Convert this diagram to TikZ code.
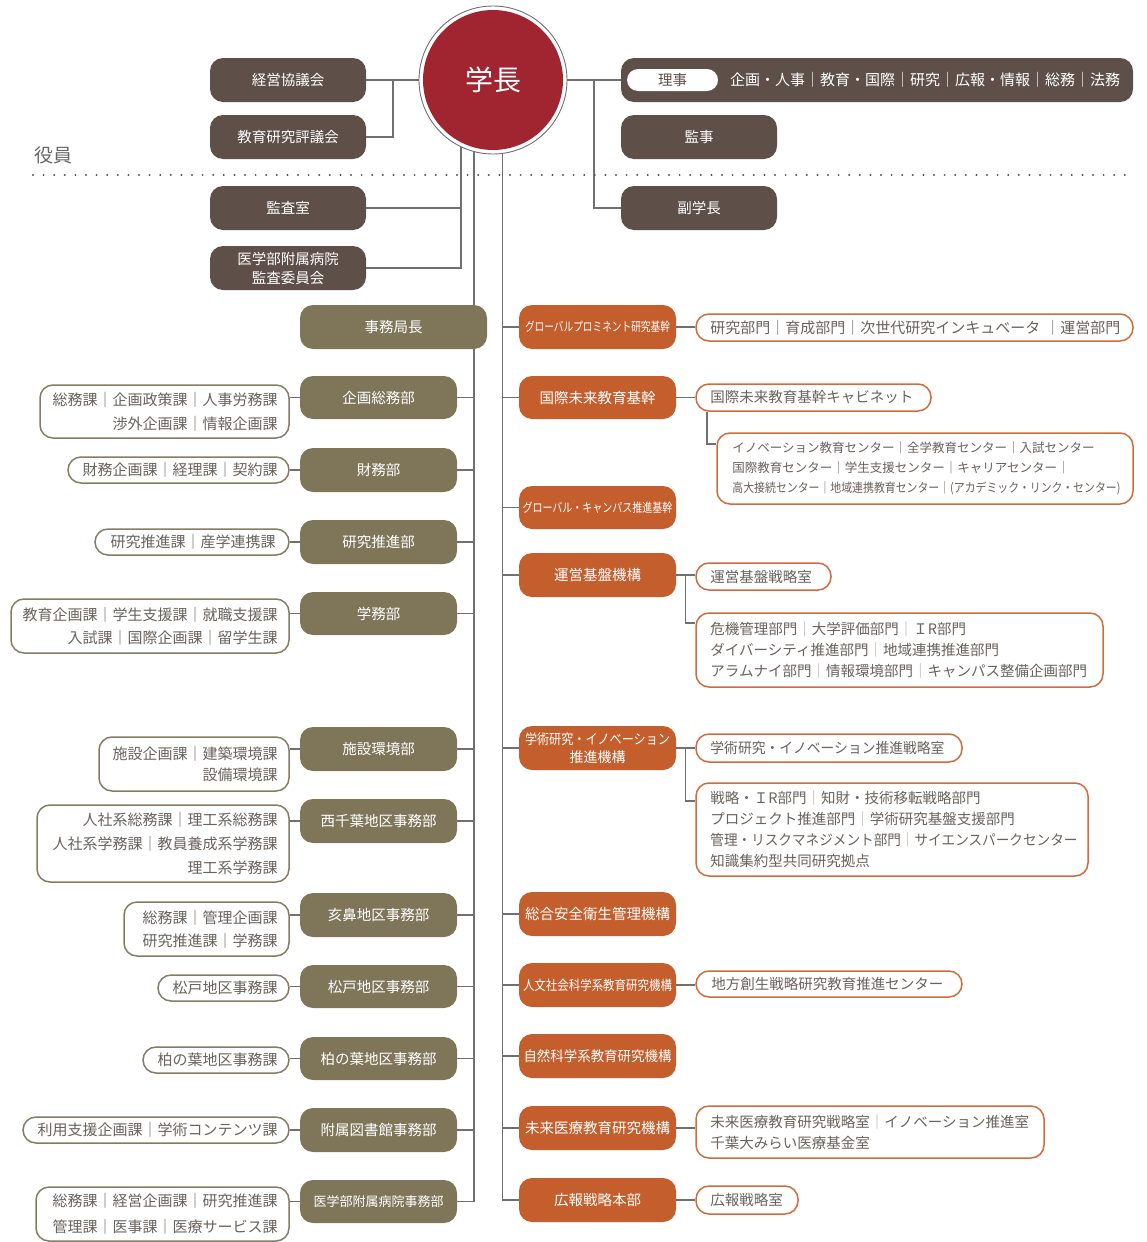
\documentclass[tikz,border=0pt]{standalone}
\usepackage{fontspec}
\usepackage{graphicx}
\setmainfont{Noto Sans CJK JP}
\definecolor{brownbox}{HTML}{5E5048}
\definecolor{olivebox}{HTML}{7F765A}
\definecolor{orangebox}{HTML}{C55E2D}
\definecolor{presred}{HTML}{A12530}
\definecolor{oliveline}{HTML}{857C64}
\definecolor{orangeline}{HTML}{D06C3C}
\definecolor{linegray}{HTML}{707070}
\definecolor{subtext}{HTML}{6A625D}
\definecolor{seplight}{HTML}{B3ADA8}
\definecolor{labelgray}{HTML}{666666}
\definecolor{dotgray}{HTML}{555555}
\pgfdeclarelayer{bg}
\pgfsetlayers{bg,main}
% font size helper
\newcommand{\fs}[2]{\fontsize{#1}{#2}\selectfont}
% light separator bar
\newcommand{\sepl}{{\color{seplight}｜}}
% squeeze a line to a given width, keeping its height
\newcommand{\fitw}[2]{\resizebox{#1pt}{\height}{#2}}
% box given by its corners: style, name, x1, y1, x2, y2, text
\newcommand{\rbox}[7]{%
  \node[#1, minimum width={#5-#3}, minimum height={#6-#4}] (#2)
    at ({(#3+#5)/2},{(#4+#6)/2}) {#7};}
\tikzset{
  conn/.style={draw=linegray, line width=1.4pt},
  basebox/.style={rounded corners=13pt, inner sep=0pt, align=center, text=white, font=\fs{14.5}{18}},
  brownb/.style={basebox, fill=brownbox},
  oliveb/.style={basebox, fill=olivebox},
  orangeb/.style={basebox, fill=orangebox},
  subO/.style={draw=oliveline, line width=1.5pt, fill=white, rounded corners=13pt, inner sep=0pt},
  subR/.style={draw=orangeline, line width=1.5pt, fill=white, rounded corners=13pt, inner sep=0pt},
  txtR/.style={anchor=east, align=right, inner sep=0pt, text=subtext, font=\fs{15}{24}},
  txtL/.style={anchor=west, align=left, inner sep=0pt, text=subtext, font=\fs{14.5}{21}},
  dotline/.style={draw=dotgray, line width=2.2pt, line cap=round, dash pattern=on 0pt off 10.6pt},
}
\begin{document}
\begin{tikzpicture}[x=1pt, y=-1pt]
\useasboundingbox (0,0) rectangle (1146,1242);

% ---------- president ----------
\node[circle, draw=linegray, line width=0.9pt, fill=white, minimum size=148pt, inner sep=0pt] (presO) at (493,80) {};
\node[circle, fill=presred, minimum size=140pt, inner sep=0pt, text=white, font=\fs{28}{28}] (pres) at (493,80) {学長};

% ---------- executive level ----------
\rbox{brownb}{keiei}{210}{58}{366}{102}{経営協議会}
\rbox{brownb}{kyoiku}{210}{115}{366}{159}{教育研究評議会}
\rbox{brownb}{kansa}{210}{186}{366}{230}{監査室}
\rbox{brownb, font=\fs{14.5}{19}}{kansai}{210}{246}{366}{290}{医学部附属病院\\監査委員会}

\rbox{brownb}{riji}{621}{58}{1133}{102}{}
\rbox{basebox, fill=white, text=brownbox, rounded corners=11pt}{rijil}{627}{69}{718}{91}{理事}
\node[anchor=west, inner sep=0pt, text=white, font=\fs{15}{15}] (rijit) at (730,80) {企画・人事｜教育・国際｜研究｜広報・情報｜総務｜法務};
\rbox{brownb}{kanji}{621}{115}{777}{159}{監事}
\rbox{brownb}{fuku}{621}{186}{777}{230}{副学長}

\node[text=labelgray, font=\fs{19}{19}, inner sep=0pt] (yakuin) at (53,155) {役員};
\coordinate (dotA) at (33,175);
\coordinate (dotB) at (1125,175);
\draw[dotline] (dotA) -- (dotB);

% ---------- administrative bureau ----------
\rbox{oliveb}{jimu}{300}{305}{487}{349}{事務局長}
\rbox{oliveb}{d1}{300}{376}{457}{419}{企画総務部}
\rbox{oliveb}{d2}{300}{448}{457}{492}{財務部}
\rbox{oliveb}{d3}{300}{520}{457}{564}{研究推進部}
\rbox{oliveb}{d4}{300}{592}{457}{635}{学務部}
\rbox{oliveb}{d5}{300}{727}{457}{771}{施設環境部}
\rbox{oliveb}{d6}{300}{799}{457}{843}{西千葉地区事務部}
\rbox{oliveb}{d7}{300}{893}{457}{937}{亥鼻地区事務部}
\rbox{oliveb}{d8}{300}{965}{457}{1008}{松戸地区事務部}
\rbox{oliveb}{d9}{300}{1037}{457}{1080}{柏の葉地区事務部}
\rbox{oliveb}{d10}{300}{1108}{457}{1152}{附属図書館事務部}
\rbox{oliveb, font=\fs{13}{13}}{d11}{300}{1180}{457}{1223}{医学部附属病院事務部}

% sections of each department
\rbox{subO}{s1}{40}{385}{289}{438}{}
\node[txtR] (s1t) at ([xshift=-12pt]s1.east) {総務課｜企画政策課｜人事労務課\\渉外企画課｜情報企画課};
\rbox{subO}{s2}{68}{457}{289}{483}{}
\node[txtR] (s2t) at ([xshift=-12pt]s2.east) {財務企画課｜経理課｜契約課};
\rbox{subO}{s3}{95}{529}{289}{555}{}
\node[txtR] (s3t) at ([xshift=-14pt]s3.east) {研究推進課｜産学連携課};
\rbox{subO}{s4}{11}{599}{289}{653}{}
\node[txtR, font=\fs{15}{23.3}] (s4t) at ([xshift=-12pt]s4.east) {教育企画課｜学生支援課｜就職支援課\\入試課｜国際企画課｜留学生課};
\rbox{subO}{s5}{99}{737}{289}{791}{}
\node[txtR, font=\fs{15}{21}] (s5t) at ([xshift=-12pt]s5.east) {施設企画課｜建築環境課\\設備環境課};
\rbox{subO}{s6}{37}{805}{289}{882}{}
\node[txtR] (s6t) at ([xshift=-12pt]s6.east) {人社系総務課｜理工系総務課\\人社系学務課｜教員養成系学務課\\理工系学務課};
\rbox{subO}{s7}{124}{902}{289}{956}{}
\node[txtR, font=\fs{15}{23.3}] (s7t) at ([xshift=-12pt]s7.east) {総務課｜管理企画課\\研究推進課｜学務課};
\rbox{subO}{s8}{158}{975}{289}{1001}{}
\node[txtR] (s8t) at ([xshift=-12pt]s8.east) {松戸地区事務課};
\rbox{subO}{s9}{143}{1047}{289}{1073}{}
\node[txtR] (s9t) at ([xshift=-12pt]s9.east) {柏の葉地区事務課};
\rbox{subO}{s10}{23}{1117}{289}{1143}{}
\node[txtR] (s10t) at ([xshift=-12pt]s10.east) {利用支援企画課｜学術コンテンツ課};
\rbox{subO}{s11}{36}{1187}{289}{1241}{}
\node[txtR, font=\fs{15}{26}] (s11t) at ([xshift=-12pt]s11.east) {総務課｜経営企画課｜研究推進課\\管理課｜医事課｜医療サービス課};

% ---------- institutes and organizations ----------
\rbox{orangeb}{o1}{519}{305}{676}{349}{\fs{12.5}{12.5}\fitw{145}{グローバルプロミネント研究基幹}}
\rbox{orangeb}{o2}{519}{376}{676}{419}{国際未来教育基幹}
\rbox{orangeb}{o3}{519}{486}{676}{529}{\fs{12.5}{12.5}\fitw{150}{グローバル・キャンパス推進基幹}}
\rbox{orangeb}{o4}{519}{553}{676}{597}{運営基盤機構}
\rbox{orangeb, font=\fs{14}{18}}{o5}{519}{726}{676}{770}{\fitw{145}{学術研究・イノベーション}\\推進機構}
\rbox{orangeb}{o6}{519}{892}{676}{936}{総合安全衛生管理機構}
\rbox{orangeb}{o7}{519}{963}{676}{1007}{\fs{13.5}{13.5}\fitw{149}{人文社会科学系教育研究機構}}
\rbox{orangeb}{o8}{519}{1034}{676}{1078}{\fs{14}{14}\fitw{148}{自然科学系教育研究機構}}
\rbox{orangeb}{o9}{519}{1106}{676}{1150}{未来医療教育研究機構}
\rbox{orangeb}{o10}{519}{1178}{676}{1222}{広報戦略本部}

% their units
\rbox{subR}{t1}{696}{314}{1133}{341}{}
\node[txtL, font=\fs{15}{15}] (t1t) at ([xshift=15pt]t1.west) {研究部門｜育成部門｜次世代研究インキュベータ\hspace{5pt}｜運営部門};
\rbox{subR}{t2a}{696}{384}{931}{411}{}
\node[txtL] (t2at) at ([xshift=15pt]t2a.west) {国際未来教育基幹キャビネット};
\rbox{subR}{t2b}{717}{433}{1133}{504}{}
\node[txtL, font=\fs{12.5}{20}] (t2bt) at ([xshift=16pt]t2b.west) {イノベーション教育センター｜全学教育センター｜入試センター\\国際教育センター｜学生支援センター｜キャリアセンター｜\\\fitw{388}{高大接続センター｜地域連携教育センター｜(アカデミック・リンク・センター)}};
\rbox{subR}{t4a}{696}{563}{831}{590}{}
\node[txtL] (t4at) at ([xshift=15pt]t4a.west) {運営基盤戦略室};
\rbox{subR}{t4b}{696}{613}{1103}{687}{}
\node[txtL] (t4bt) at ([xshift=15pt]t4b.west) {危機管理部門\sepl 大学評価部門\sepl ＩR部門\\ダイバーシティ推進部門\sepl 地域連携推進部門\\アラムナイ部門\sepl 情報環境部門\sepl キャンパス整備企画部門};
\rbox{subR}{t5a}{696}{734}{962}{762}{}
\node[txtL] (t5at) at ([xshift=15pt]t5a.west) {\fitw{234}{学術研究・イノベーション推進戦略室}};
\rbox{subR}{t5b}{696}{783}{1088}{876}{}
\node[txtL] (t5bt) at ([xshift=15pt]t5b.west) {戦略・ＩR部門\sepl 知財・技術移転戦略部門\\プロジェクト推進部門\sepl 学術研究基盤支援部門\\\fitw{367}{管理・リスクマネジメント部門\sepl サイエンスパークセンター}\\知識集約型共同研究拠点};
\rbox{subR}{t7}{696}{971}{962}{997}{}
\node[txtL] (t7t) at ([xshift=16pt]t7.west) {地方創生戦略研究教育推進センター};
\rbox{subR}{t9}{696}{1106}{1044}{1158}{}
\node[txtL] (t9t) at ([xshift=15pt]t9.west) {未来医療教育研究戦略室\sepl イノベーション推進室\\千葉大みらい医療基金室};
\rbox{subR}{t10}{696}{1186}{798}{1214}{}
\node[txtL] (t10t) at ([xshift=15pt]t10.west) {広報戦略室};

% ---------- connectors ----------
\coordinate (jL) at (393,80);
\coordinate (kA) at (461,80);
\coordinate (tL) at (474,80);
\coordinate (tR) at (502.5,80);
\coordinate (jR) at (594,80);
\coordinate (c2) at (707,444);
\coordinate (c4) at (685.5,623);
\coordinate (c5) at (685.5,801);
\begin{pgfonlayer}{bg}
  \draw[conn] (keiei.east) -- (presO.west);
  \draw[conn] (kyoiku.east) -| (jL);
  \draw[conn] (kA) |- (kansai.east);
  \draw[conn] (kansa.east) -- (kansa.east -| kA);
  \draw[conn] (presO.east) -- (riji.west);
  \draw[conn] (jR) |- (fuku.west);
  % left trunk: administrative bureau
  \draw[conn] (tL) -- (tL |- d11.east) -- (d11.east);
  \foreach \d in {d1,d2,d3,d4,d5,d6,d7,d8,d9,d10}
    \draw[conn] (\d.east) -- (\d.east -| tL);
  \foreach \d/\s in {d1/s1,d2/s2,d3/s3,d4/s4,d5/s5,d6/s6,d7/s7,d8/s8,d9/s9,d10/s10,d11/s11}
    \draw[conn] (\d.west) -- (\d.west -| \s.east);
  % right trunk: institutes
  \draw[conn] (tR) -- (tR |- o10.west) -- (o10.west);
  \foreach \o in {o1,o2,o3,o4,o5,o6,o7,o8,o9}
    \draw[conn] (\o.west) -- (\o.west -| tR);
  \draw[conn] (o1.east) -- (o1.east -| t1.west);
  \draw[conn] (o2.east) -- (o2.east -| t2a.west);
  \draw[conn] (t2a.south -| c2) -- (c2) -- (c2 -| t2b.west);
  \draw[conn] (o4.east) -- (o4.east -| t4a.west);
  \draw[conn] (o4.east -| c4) -- (c4) -- (c4 -| t4b.west);
  \draw[conn] (o5.east) -- (o5.east -| t5a.west);
  \draw[conn] (o5.east -| c5) -- (c5) -- (c5 -| t5b.west);
  \draw[conn] (o7.east) -- (o7.east -| t7.west);
  \draw[conn] (o9.east) -- (o9.east -| t9.west);
  \draw[conn] (o10.east) -- (o10.east -| t10.west);
\end{pgfonlayer}
\end{tikzpicture}
\end{document}
